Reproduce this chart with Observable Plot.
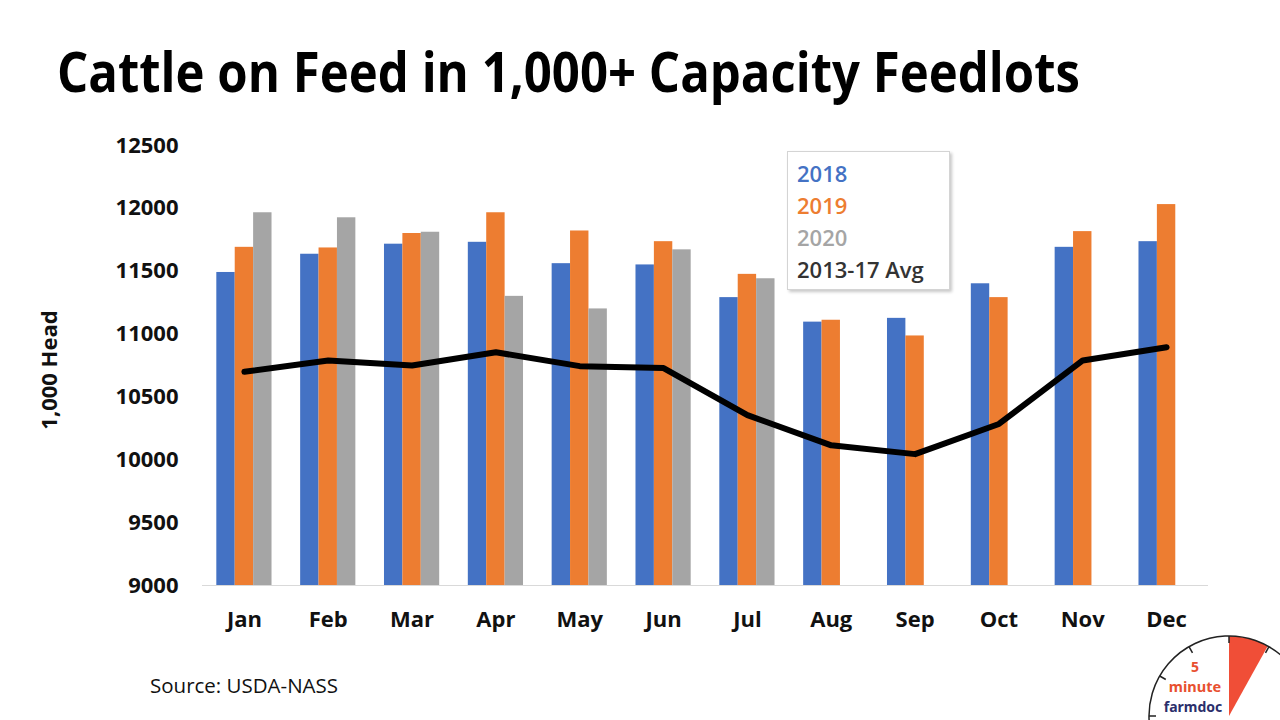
<!DOCTYPE html>
<html>
<head>
<meta charset="utf-8">
<script src="https://cdn.jsdelivr.net/npm/d3@7"></script>
<script src="https://cdn.jsdelivr.net/npm/@observablehq/plot@0.6"></script>
<style>
  html, body { margin: 0; padding: 0; }
  body { width: 1280px; height: 720px; background: #fff; position: relative; overflow: hidden; font-family: "Open Sans", sans-serif; }
  #title { position: absolute; left: 0; top: 0; }
  #chart { position: absolute; left: 0; top: 120px; }
  #ylabel { position: absolute; left: 48px; top: 370px; transform: translate(-50%, -50%) rotate(-90deg); font-size: 22px; font-weight: 700; color: #111; white-space: nowrap; }
  #legend { position: absolute; left: 787px; top: 151px; width: 163px; height: 139px; box-sizing: border-box; background: #fff; border: 1px solid #d4d4d4; box-shadow: 2px 2px 3px rgba(0,0,0,0.22); padding: 5px 0 0 9px; font-size: 22px; font-weight: 600; line-height: 32px; }
  #source { position: absolute; left: 150px; top: 671px; font-size: 20.5px; color: #111; }
  #logo { position: absolute; left: 1140px; top: 630px; }
</style>
</head>
<body>
<svg id="title" width="1280" height="120">
  <text x="57" y="92" font-family="Open Sans, sans-serif" font-weight="700" font-size="55" fill="#000" textLength="1023" lengthAdjust="spacingAndGlyphs">Cattle on Feed in 1,000+ Capacity Feedlots</text>
</svg>
<div id="chart"></div>
<div id="ylabel">1,000 Head</div>
<div id="legend"></div>
<div id="source">Source: USDA-NASS</div>
<svg id="logo" width="140" height="90"></svg>
<script>
const months = ["Jan","Feb","Mar","Apr","May","Jun","Jul","Aug","Sep","Oct","Nov","Dec"];
const series = ["2018","2019","2020","2013-17 Avg"];
const colors = ["#4472C4","#ED7D31","#A5A5A5","#262626"];
const v2018 = [11490,11635,11715,11730,11560,11550,11290,11095,11125,11400,11690,11735];
const v2019 = [11690,11685,11800,11965,11820,11735,11475,11110,10985,11290,11815,12030];
const v2020 = [11965,11925,11810,11300,11200,11670,11440];
const avg1317 = [10700,10790,10750,10855,10745,10730,10355,10115,10045,10285,10790,10895];
const yTicks = [9000,9500,10000,10500,11000,11500,12000,12500];

const barSeries = [v2018, v2019, v2020];
const barRows = barSeries.map((vals, i) => vals.map((v, j) => ({month: months[j], series: series[i], value: v})));
const avgRows = avg1317.map((v, j) => ({month: months[j], value: v}));

const W = 1280, H = 540, mL = 202, mR = 72, mT = 25, mB = 75;
const band = (W - mL - mR) / months.length;
const barW = 18.4;
const inset = (band - barW) / 2;
const offsets = [-barW, 0, barW];

const chart = Plot.plot({
  width: W, height: H,
  marginLeft: mL, marginRight: mR, marginTop: mT, marginBottom: mB,
  style: {fontFamily: "Open Sans, sans-serif", fontSize: "22px", fontWeight: 700, color: "#111", background: "transparent"},
  x: {type: "band", domain: months, padding: 0, round: false, label: null, tickSize: 0, tickPadding: 26},
  y: {domain: [9000, 12500], ticks: yTicks, tickFormat: d3.format("d"), label: null, tickSize: 0, tickPadding: 24},
  marks: [
    ...barRows.map((rows, i) => Plot.barY(rows, {x: "month", y1: 9000, y2: "value", fill: colors[i], dx: offsets[i], insetLeft: inset, insetRight: inset})),
    Plot.ruleY([9000], {stroke: "#d9d9d9", strokeWidth: 1}),
    Plot.line(avgRows, {x: "month", y: "value", stroke: "#000", strokeWidth: 6, strokeLinejoin: "round", strokeLinecap: "round"})
  ]
});
document.getElementById("chart").appendChild(chart);

const legend = document.getElementById("legend");
series.forEach((s, i) => {
  const d = document.createElement("div");
  d.textContent = s;
  d.style.color = i === 3 ? "#333" : colors[i];
  legend.appendChild(d);
});

// decorative logo
const logo = d3.select("#logo");
const cx = 89, cy = 86, r = 80;
const toXY = (deg, rad) => [cx + rad * Math.sin(deg * Math.PI / 180), cy - rad * Math.cos(deg * Math.PI / 180)];
const wedge = d3.arc()({innerRadius: 0, outerRadius: r, startAngle: 0, endAngle: 29 * Math.PI / 180});
logo.append("path").attr("d", wedge).attr("transform", `translate(${cx},${cy})`).attr("fill", "#F04E37");
logo.append("path").attr("d", d3.arc()({innerRadius: r, outerRadius: r, startAngle: -Math.PI / 2 - 0.1, endAngle: Math.PI / 2}))
  .attr("transform", `translate(${cx},${cy})`).attr("fill", "none").attr("stroke", "#222").attr("stroke-width", 1.5);
[-90, -60, -30, 0, 30, 60].forEach(a => {
  const [x1, y1] = toXY(a, r), [x2, y2] = toXY(a, r - 7);
  logo.append("line").attr("x1", x1).attr("y1", y1).attr("x2", x2).attr("y2", y2).attr("stroke", "#222").attr("stroke-width", 1.5);
});
const logoFont = "Noto Sans, sans-serif";
logo.append("text").attr("x", 55).attr("y", 42).attr("text-anchor", "middle").attr("font-family", logoFont).attr("font-weight", 700).attr("font-size", 14).attr("fill", "#E8502F").text("5");
logo.append("text").attr("x", 55).attr("y", 62).attr("text-anchor", "middle").attr("font-family", logoFont).attr("font-weight", 700).attr("font-size", 14.5).attr("fill", "#E8502F").text("minute");
logo.append("text").attr("x", 53).attr("y", 82).attr("text-anchor", "middle").attr("font-family", logoFont).attr("font-weight", 700).attr("font-size", 14).attr("fill", "#2B2F6B").text("farmdoc");
</script>
</body>
</html>
